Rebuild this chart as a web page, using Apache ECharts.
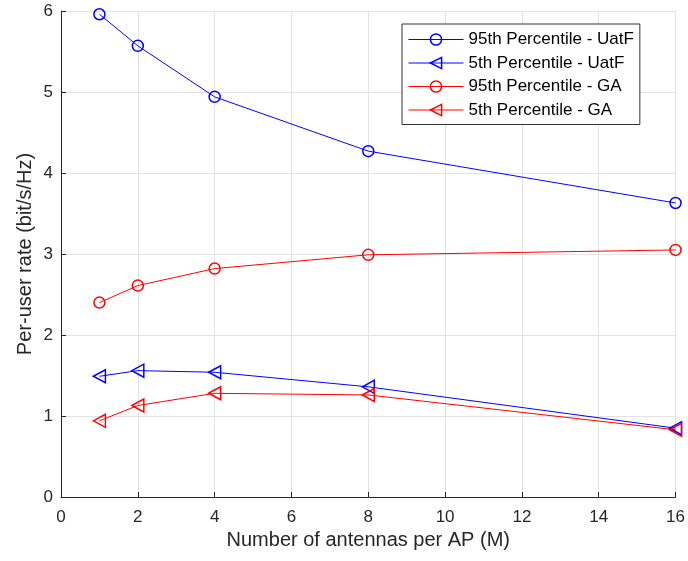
<!DOCTYPE html>
<html><head><meta charset="utf-8">
<script src="https://cdn.jsdelivr.net/npm/echarts@6/dist/echarts.min.js"></script>
<style>html,body{margin:0;padding:0;background:#fff}#c{width:688px;height:561px}</style>
</head><body><div id="c"></div>
<script>
const xValues = [1, 2, 4, 8, 16];
const p95UatF = [5.96, 5.57, 4.94, 4.27, 3.63];
const p5UatF = [1.49, 1.56, 1.54, 1.36, 0.85];
const p95GA = [2.40, 2.61, 2.82, 2.99, 3.05];
const p5GA = [0.94, 1.13, 1.28, 1.26, 0.83];
const seriesNames = ['95th Percentile - UatF', '5th Percentile - UatF', '95th Percentile - GA', '5th Percentile - GA'];
const pair = (ys) => xValues.map((x, i) => [x, ys[i]]);
const font = 'Liberation Sans, Arial, Helvetica, sans-serif';
function mk(name, ys, color, tri) {
  return {
    name, type: 'line', data: pair(ys),
    lineStyle: { color, width: 1 },
    itemStyle: { color: 'transparent', borderColor: color, borderWidth: 1.5 },
    color,
    symbol: tri ? 'triangle' : 'circle',
    symbolSize: tri ? [13, 12] : 11,
    symbolRotate: tri ? 90 : 0,
    showAllSymbol: true,
    emphasis: { disabled: true },
    animation: false
  };
}
const chart = echarts.init(document.getElementById('c'));
chart.setOption({
  animation: false,
  grid: { left: 61, right: 11, top: 11, bottom: 64, containLabel: false },
  xAxis: {
    type: 'value', min: 0, max: 16, interval: 2,
    name: 'Number of antennas per AP (M)', nameLocation: 'middle', nameGap: 33,
    nameMoveOverlap: false,
    nameTextStyle: { fontFamily: font, fontSize: 20, color: '#262626' },
    axisLine: { show: true, lineStyle: { color: '#262626', width: 1 } },
    axisTick: { show: true, inside: true, length: 5, lineStyle: { color: '#262626' } },
    axisLabel: { fontFamily: font, fontSize: 17, color: '#262626', margin: 12 },
    splitLine: { show: true, lineStyle: { color: '#e3e3e3', width: 1 } }
  },
  yAxis: {
    type: 'value', min: 0, max: 6, interval: 1,
    name: 'Per-user rate (bit/s/Hz)', nameLocation: 'middle', nameGap: 26,
    nameMoveOverlap: false,
    nameTextStyle: { fontFamily: font, fontSize: 20, color: '#262626' },
    axisLine: { show: true, lineStyle: { color: '#262626', width: 1 } },
    axisTick: { show: true, inside: true, length: 5, lineStyle: { color: '#262626' } },
    axisLabel: { fontFamily: font, fontSize: 17, color: '#262626', margin: 8 },
    splitLine: { show: true, lineStyle: { color: '#e3e3e3', width: 1 } }
  },
  legend: {
    orient: 'vertical', left: 402, top: 24,
    backgroundColor: '#fff', borderColor: '#333', borderWidth: 1,
    padding: [7, 6, 6, 6],
    itemWidth: 55, itemHeight: 14, itemGap: 6.5,
    lineStyle: { width: 1 },
    itemStyle: { borderWidth: 1.5 },
    textStyle: { fontFamily: font, fontSize: 17, color: '#000' },
    data: seriesNames
  },
  series: [
    mk(seriesNames[0], p95UatF, '#0000ff', false),
    mk(seriesNames[1], p5UatF, '#0000ff', true),
    mk(seriesNames[2], p95GA, '#ff0000', false),
    mk(seriesNames[3], p5GA, '#ff0000', true)
  ]
});
</script></body></html>
